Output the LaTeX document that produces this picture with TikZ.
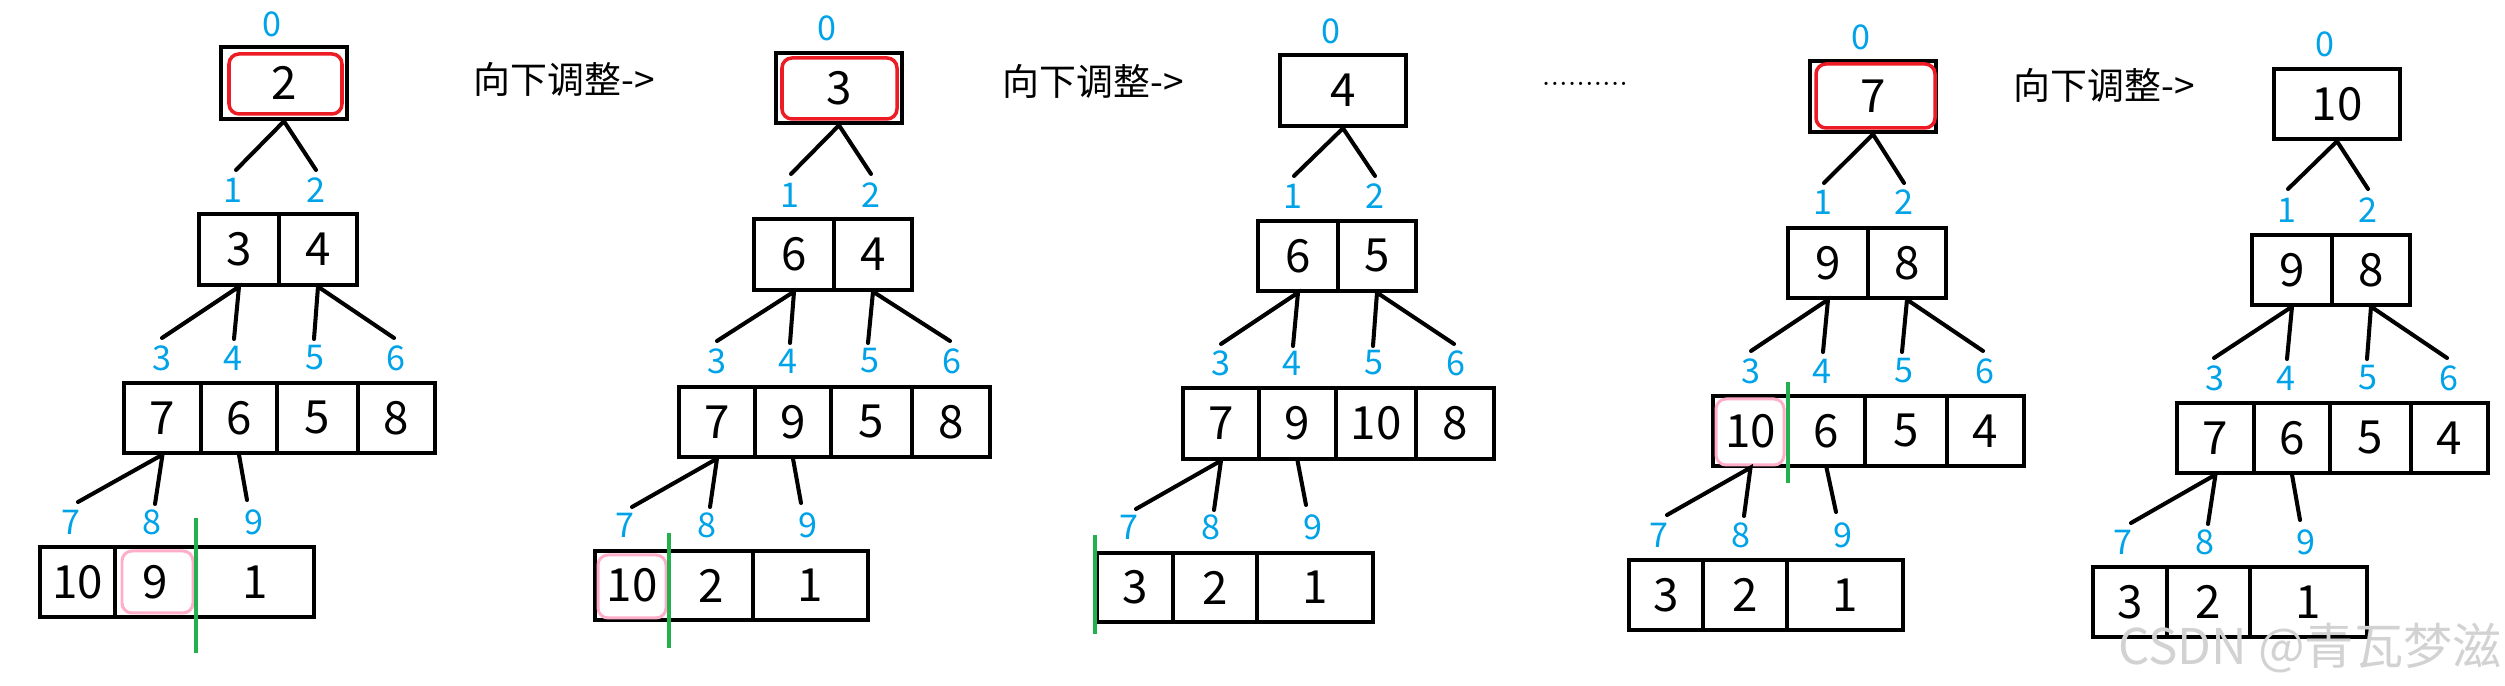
\documentclass[tikz,border=0pt]{standalone}
\usepackage{fontspec}
\newfontfamily\cjk{Noto Sans CJK SC}
\definecolor{idxblue}{RGB}{0,162,232}
\definecolor{markred}{RGB}{237,28,36}
\definecolor{markpink}{RGB}{255,174,201}
\definecolor{cutgreen}{RGB}{34,177,76}
\tikzset{
  cell/.style={draw, line width=0.95pt, inner sep=0pt, font=\cjk\fontsize{13}{15}\selectfont},
  rootcell/.style={line width=1.3pt},
  idx/.style={text=idxblue, inner sep=0pt, font=\cjk\fontsize{9.7}{11}\selectfont},
  branch/.style={line width=1.15pt, line cap=round},
  redmark/.style={draw=markred, line width=1pt, rounded corners=0.1cm},
  pinkmark/.style={draw=markpink, line width=0.85pt, rounded corners=0.1cm},
  cut/.style={draw=cutgreen, line width=1.1pt},
  arrowtext/.style={anchor=west, inner sep=0pt, font=\cjk\fontsize{10.5}{12}\selectfont}
}
% [style]{name}{left}{top}{right}{bottom}{text}
\newcommand{\cellnode}[7][]{%
  \node[cell,#1,minimum width={(#5-#3)*0.01cm},minimum height={(#6-#4)*0.01cm}] (#2) at ({(#3+#5)/2},{(#4+#6)/2}) {#7};}
\begin{document}
\begin{tikzpicture}[x=0.01cm,y=-0.01cm]
\useasboundingbox (0,0) rectangle (2505,686);

%TREE 1
  \node[idx] (t1i0) at (272,24) {0};
  \cellnode[rootcell]{t1c0}{221}{47}{347}{119}{2}
  \draw[redmark] (229,54) rectangle (342,114);
  \coordinate (t1e1) at (236,170);
  \coordinate (t1e2) at (316,170);
  \draw[branch] (t1e1) -- (t1c0.south) -- (t1e2);
  \node[idx] (t1i1) at (233,190) {1};
  \node[idx] (t1i2) at (316,190) {2};
  \cellnode{t1c1}{199}{214}{279}{285}{3}
  \cellnode{t1c2}{279}{214}{357}{285}{4}
  \coordinate (t1e3) at (162,338);
  \coordinate (t1e4) at (234,339);
  \coordinate (t1e5) at (314,339);
  \coordinate (t1e6) at (394,338);
  \draw[branch] (t1e3) -- (t1c1.south) -- (t1e4);
  \draw[branch] (t1e5) -- (t1c2.south) -- (t1e6);
  \node[idx] (t1i3) at (162,358) {3};
  \node[idx] (t1i4) at (233,358) {4};
  \node[idx] (t1i5) at (315,358) {5};
  \node[idx] (t1i6) at (396,358) {6};
  \cellnode{t1c3}{124}{383}{201}{453}{7}
  \cellnode{t1c4}{201}{383}{277}{453}{6}
  \cellnode{t1c5}{277}{383}{358}{453}{5}
  \cellnode{t1c6}{358}{383}{435}{453}{8}
  \coordinate (t1e7) at (78,502);
  \coordinate (t1e8) at (155,504);
  \coordinate (t1e9) at (247,500);
  \draw[branch] (t1e7) -- (t1c3.south) -- (t1e8);
  \draw[branch] (t1c4.south) -- (t1e9);
  \node[idx] (t1i7) at (71,522) {7};
  \node[idx] (t1i8) at (152,522) {8};
  \node[idx] (t1i9) at (254,522) {9};
  \cellnode{t1c7}{40}{547}{115}{617}{10}
  \cellnode{t1c8}{115}{547}{196}{617}{9}
  \cellnode{t1c9}{196}{547}{314}{617}{1}
  \draw[pinkmark] (122,551) rectangle (193,613);
  \draw[cut] (196,518) -- (196,653);
  \node[arrowtext] (s1) at (473,79) {向下调整->};

%TREE 2
  \node[idx] (t2i0) at (827,28) {0};
  \cellnode[rootcell]{t2c0}{776}{53}{902}{123}{3}
  \draw[redmark] (782,58) rectangle (897,119);
  \coordinate (t2e1) at (791,174);
  \coordinate (t2e2) at (871,174);
  \draw[branch] (t2e1) -- (t2c0.south) -- (t2e2);
  \node[idx] (t2i1) at (790,195) {1};
  \node[idx] (t2i2) at (871,195) {2};
  \cellnode{t2c1}{754}{219}{834}{290}{6}
  \cellnode{t2c2}{834}{219}{912}{290}{4}
  \coordinate (t2e3) at (717,341);
  \coordinate (t2e4) at (790,343);
  \coordinate (t2e5) at (868,343);
  \coordinate (t2e6) at (950,341);
  \draw[branch] (t2e3) -- (t2c1.south) -- (t2e4);
  \draw[branch] (t2e5) -- (t2c2.south) -- (t2e6);
  \node[idx] (t2i3) at (717,361) {3};
  \node[idx] (t2i4) at (788,361) {4};
  \node[idx] (t2i5) at (870,361) {5};
  \node[idx] (t2i6) at (952,361) {6};
  \cellnode{t2c3}{679}{387}{755}{457}{7}
  \cellnode{t2c4}{755}{387}{831}{457}{9}
  \cellnode{t2c5}{831}{387}{912}{457}{5}
  \cellnode{t2c6}{912}{387}{990}{457}{8}
  \coordinate (t2e7) at (632,507);
  \coordinate (t2e8) at (710,507);
  \coordinate (t2e9) at (801,503);
  \draw[branch] (t2e7) -- (t2c3.south) -- (t2e8);
  \draw[branch] (t2c4.south) -- (t2e9);
  \node[idx] (t2i7) at (625,525) {7};
  \node[idx] (t2i8) at (707,525) {8};
  \node[idx] (t2i9) at (808,525) {9};
  \cellnode{t2c7}{595}{551}{669}{620}{10}
  \cellnode{t2c8}{669}{551}{753}{620}{2}
  \cellnode{t2c9}{753}{551}{868}{620}{1}
  \draw[pinkmark] (598,555) rectangle (666,618);
  \draw[cut] (669,533) -- (669,648);
  \node[arrowtext] (s2) at (1002,81) {向下调整->};

%TREE 3
  \node[idx] (t3i0) at (1331,31) {0};
  \cellnode[rootcell]{t3c0}{1280}{55}{1406}{126}{4}
  \coordinate (t3e1) at (1294,176);
  \coordinate (t3e2) at (1375,176);
  \draw[branch] (t3e1) -- (t3c0.south) -- (t3e2);
  \node[idx] (t3i1) at (1293,196) {1};
  \node[idx] (t3i2) at (1375,196) {2};
  \cellnode{t3c1}{1258}{221}{1338}{291}{6}
  \cellnode{t3c2}{1338}{221}{1416}{291}{5}
  \coordinate (t3e3) at (1221,344);
  \coordinate (t3e4) at (1293,346);
  \coordinate (t3e5) at (1373,346);
  \coordinate (t3e6) at (1454,344);
  \draw[branch] (t3e3) -- (t3c1.south) -- (t3e4);
  \draw[branch] (t3e5) -- (t3c2.south) -- (t3e6);
  \node[idx] (t3i3) at (1221,363) {3};
  \node[idx] (t3i4) at (1292,363) {4};
  \node[idx] (t3i5) at (1374,363) {5};
  \node[idx] (t3i6) at (1456,363) {6};
  \cellnode{t3c3}{1183}{388}{1259}{459}{7}
  \cellnode{t3c4}{1259}{388}{1336}{459}{9}
  \cellnode{t3c5}{1336}{388}{1416}{459}{10}
  \cellnode{t3c6}{1416}{388}{1494}{459}{8}
  \coordinate (t3e7) at (1136,509);
  \coordinate (t3e8) at (1214,510);
  \coordinate (t3e9) at (1306,505);
  \draw[branch] (t3e7) -- (t3c3.south) -- (t3e8);
  \draw[branch] (t3c4.south) -- (t3e9);
  \node[idx] (t3i7) at (1129,527) {7};
  \node[idx] (t3i8) at (1211,527) {8};
  \node[idx] (t3i9) at (1313,527) {9};
  \cellnode{t3c7}{1097}{553}{1173}{622}{3}
  \cellnode{t3c8}{1173}{553}{1257}{622}{2}
  \cellnode{t3c9}{1257}{553}{1373}{622}{1}
  \draw[cut] (1095,535) -- (1095,634);
  \node[anchor=base, inner sep=0pt] (gap) at (1585,85.5) {\fontsize{8.3}{10}\selectfont ..........};

%TREE 4
  \node[idx] (t4i0) at (1861,37) {0};
  \cellnode[rootcell]{t4c0}{1810}{61}{1936}{132}{7}
  \draw[redmark] (1816,64) rectangle (1935,128);
  \coordinate (t4e1) at (1824,183);
  \coordinate (t4e2) at (1904,183);
  \draw[branch] (t4e1) -- (t4c0.south) -- (t4e2);
  \node[idx] (t4i1) at (1823,202) {1};
  \node[idx] (t4i2) at (1904,202) {2};
  \cellnode{t4c1}{1788}{228}{1868}{298}{9}
  \cellnode{t4c2}{1868}{228}{1946}{298}{8}
  \coordinate (t4e3) at (1751,351);
  \coordinate (t4e4) at (1823,352);
  \coordinate (t4e5) at (1902,352);
  \coordinate (t4e6) at (1983,351);
  \draw[branch] (t4e3) -- (t4c1.south) -- (t4e4);
  \draw[branch] (t4e5) -- (t4c2.south) -- (t4e6);
  \node[idx] (t4i3) at (1751,371) {3};
  \node[idx] (t4i4) at (1822,371) {4};
  \node[idx] (t4i5) at (1904,371) {5};
  \node[idx] (t4i6) at (1985,371) {6};
  \cellnode{t4c3}{1713}{396}{1788}{466}{10}
  \cellnode{t4c4}{1788}{396}{1865}{466}{6}
  \cellnode{t4c5}{1865}{396}{1947}{466}{5}
  \cellnode{t4c6}{1947}{396}{2024}{466}{4}
  \draw[pinkmark] (1716,399) rectangle (1784,465);
  \draw[cut] (1788,382) -- (1788,483);
  \coordinate (t4e7) at (1667,515);
  \coordinate (t4e8) at (1744,516);
  \coordinate (t4e9) at (1836,512);
  \draw[branch] (t4e7) -- (t4c3.south) -- (t4e8);
  \draw[branch] (t4c4.south) -- (t4e9);
  \node[idx] (t4i7) at (1659,535) {7};
  \node[idx] (t4i8) at (1741,535) {8};
  \node[idx] (t4i9) at (1843,535) {9};
  \cellnode{t4c7}{1629}{560}{1703}{630}{3}
  \cellnode{t4c8}{1703}{560}{1787}{630}{2}
  \cellnode{t4c9}{1787}{560}{1903}{630}{1}
  \node[arrowtext] (s3) at (2013,85) {向下调整->};

%TREE 5
  \node[idx] (t5i0) at (2325,44) {0};
  \cellnode[rootcell]{t5c0}{2274}{69}{2400}{139}{10}
  \coordinate (t5e1) at (2288,189);
  \coordinate (t5e2) at (2368,189);
  \draw[branch] (t5e1) -- (t5c0.south) -- (t5e2);
  \node[idx] (t5i1) at (2287,210) {1};
  \node[idx] (t5i2) at (2368,210) {2};
  \cellnode{t5c1}{2252}{235}{2332}{305}{9}
  \cellnode{t5c2}{2332}{235}{2410}{305}{8}
  \coordinate (t5e3) at (2214,358);
  \coordinate (t5e4) at (2287,359);
  \coordinate (t5e5) at (2367,359);
  \coordinate (t5e6) at (2447,358);
  \draw[branch] (t5e3) -- (t5c1.south) -- (t5e4);
  \draw[branch] (t5e5) -- (t5c2.south) -- (t5e6);
  \node[idx] (t5i3) at (2215,378) {3};
  \node[idx] (t5i4) at (2286,378) {4};
  \node[idx] (t5i5) at (2368,378) {5};
  \node[idx] (t5i6) at (2449,378) {6};
  \cellnode{t5c3}{2177}{403}{2254}{473}{7}
  \cellnode{t5c4}{2254}{403}{2330}{473}{6}
  \cellnode{t5c5}{2330}{403}{2411}{473}{5}
  \cellnode{t5c6}{2411}{403}{2488}{473}{4}
  \coordinate (t5e7) at (2131,523);
  \coordinate (t5e8) at (2208,524);
  \coordinate (t5e9) at (2300,520);
  \draw[branch] (t5e7) -- (t5c3.south) -- (t5e8);
  \draw[branch] (t5c4.south) -- (t5e9);
  \node[idx] (t5i7) at (2123,542) {7};
  \node[idx] (t5i8) at (2205,542) {8};
  \node[idx] (t5i9) at (2306,542) {9};
  \cellnode{t5c7}{2093}{567}{2167}{637}{3}
  \cellnode{t5c8}{2167}{567}{2250}{637}{2}
  \cellnode{t5c9}{2250}{567}{2367}{637}{1}

  \node[text=gray!35, font=\cjk\fontsize{14}{16}\selectfont] (mark) at (2310,648) {CSDN @青瓦梦滋};
\end{tikzpicture}
\end{document}
